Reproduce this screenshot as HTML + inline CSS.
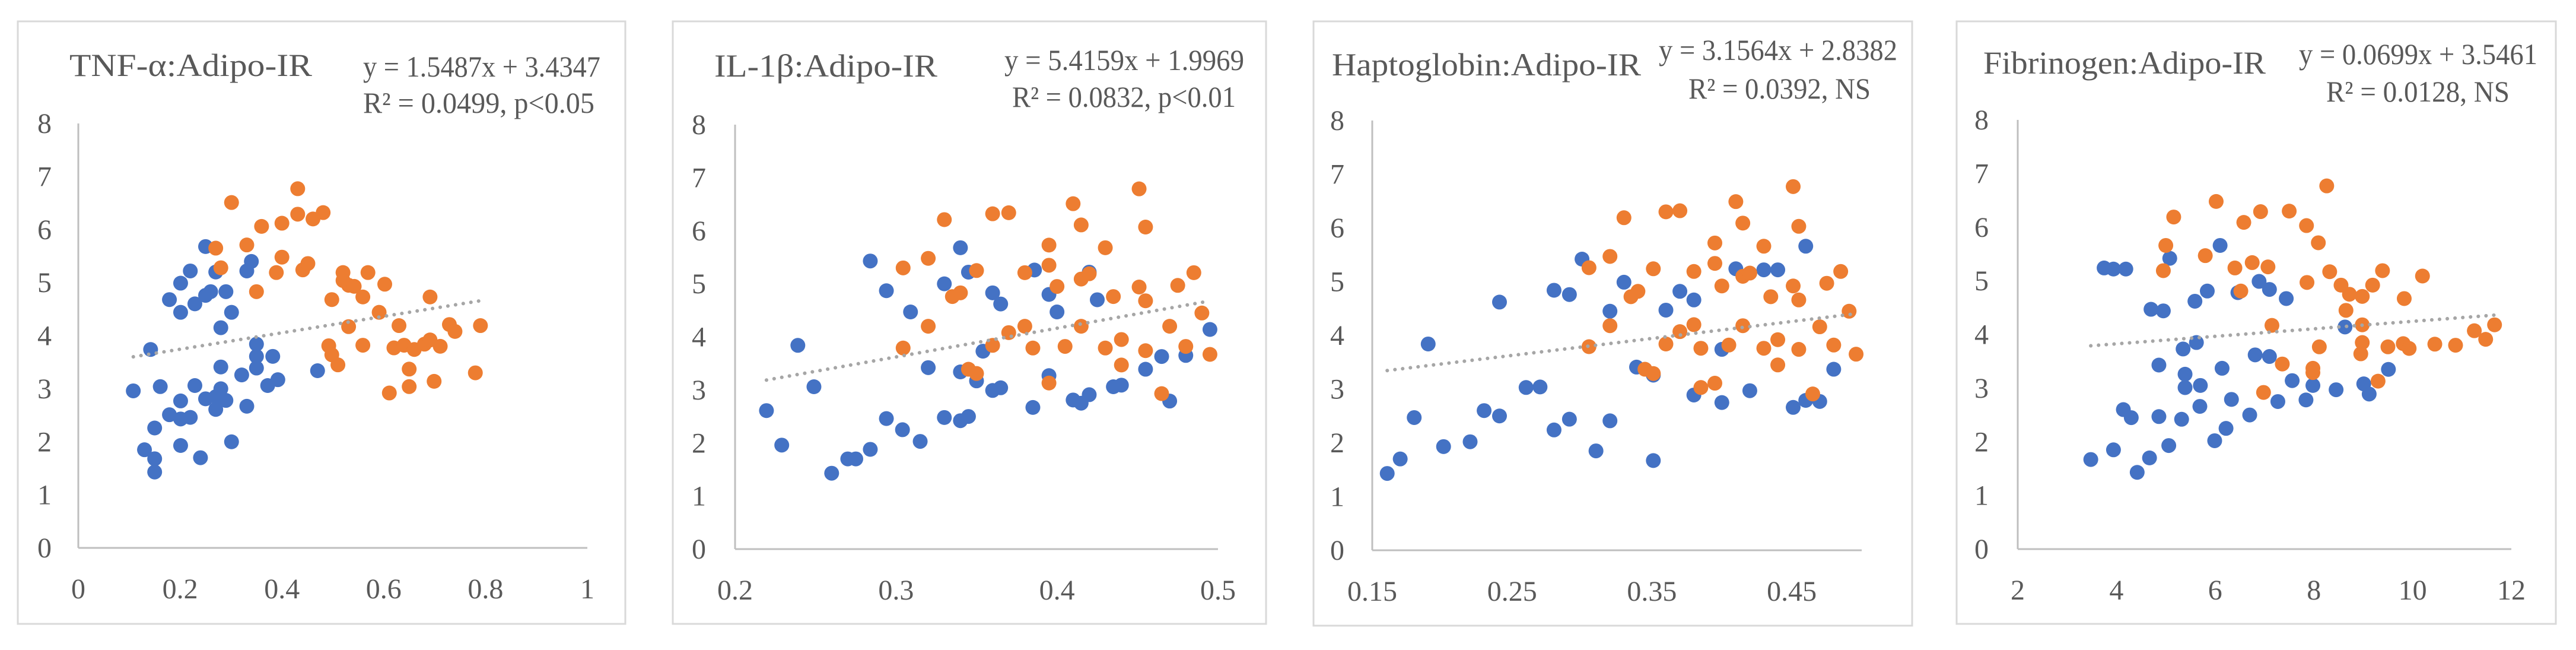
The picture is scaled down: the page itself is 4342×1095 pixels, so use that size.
<!DOCTYPE html>
<html><head><meta charset="utf-8"><style>
html,body{margin:0;padding:0;background:#fff;}
svg{display:block;}
text{font-family:"Liberation Serif",serif;fill:#595959;}
</style></head><body>
<svg id="fig" width="4342" height="1095" viewBox="0 0 4342 1095" xmlns="http://www.w3.org/2000/svg"></svg>
<script>
// ---- Panel 1: TNF-alpha
const p1BlueX=[0.108,0.142,0.130,0.150,0.150,0.150,0.161,0.179,0.179,0.201,0.201,0.201,0.201,0.201,0.220,0.220,0.229,0.229,0.240,0.250,0.250,0.250,0.260,0.270,0.270,0.270,0.280,0.280,0.280,0.290,0.290,0.301,0.301,0.321,0.331,0.331,0.340,0.350,0.350,0.350,0.372,0.382,0.392,0.470];
const p1BlueY=[2.96,3.74,1.85,1.68,1.43,2.26,3.04,2.51,4.68,2.77,2.43,1.93,4.99,4.44,5.22,2.46,3.06,4.60,1.70,2.81,4.76,5.68,4.83,5.20,2.61,2.85,3.00,3.41,4.15,4.83,2.78,4.44,2.00,3.26,2.67,5.22,5.40,3.84,3.61,3.39,3.06,3.61,3.17,3.34];
const p1OrX=[0.301,0.270,0.280,0.331,0.350,0.360,0.389,0.400,0.400,0.431,0.431,0.441,0.451,0.461,0.481,0.498,0.492,0.498,0.510,0.520,0.520,0.531,0.531,0.542,0.559,0.559,0.569,0.591,0.602,0.611,0.620,0.630,0.640,0.650,0.650,0.660,0.680,0.691,0.691,0.699,0.711,0.729,0.740,0.780,0.790];
const p1OrY=[6.51,5.65,5.28,5.71,4.83,6.06,5.19,6.12,5.48,6.77,6.29,5.24,5.36,6.20,6.32,4.68,3.81,3.64,3.45,5.19,5.04,4.95,4.17,4.93,4.73,3.82,5.19,4.44,4.97,2.92,3.77,4.19,3.82,3.37,3.04,3.74,3.84,4.73,3.92,3.14,3.80,4.21,4.08,3.30,4.19];
const p1Fit=[1.5487,3.4347];
const p1XTicks=[0,0.2,0.4,0.6,0.8,1];
const p1XLabels=["0","0.2","0.4","0.6","0.8","1"];
// ---- Panel 2: IL-1beta
const p2BlueX=[0.2195,0.229,0.239,0.249,0.260,0.270,0.275,0.284,0.284,0.294,0.294,0.304,0.309,0.315,0.320,0.330,0.330,0.340,0.340,0.340,0.345,0.345,0.350,0.354,0.360,0.360,0.365,0.365,0.385,0.386,0.395,0.395,0.400,0.410,0.415,0.420,0.420,0.425,0.435,0.440,0.455,0.465,0.470,0.480,0.495];
const p2BlueY=[2.61,1.96,3.84,3.06,1.43,1.70,1.70,5.43,1.88,4.87,2.46,2.25,4.47,2.03,3.42,5.00,2.48,5.68,3.34,2.42,5.22,2.50,3.17,3.73,4.83,2.99,4.62,3.04,2.67,5.26,4.80,3.27,4.47,2.81,2.75,5.22,2.91,4.70,3.06,3.09,3.39,3.63,2.79,3.65,4.14];
const p2OrX=[0.3044,0.3044,0.320,0.320,0.330,0.335,0.340,0.350,0.345,0.350,0.360,0.360,0.370,0.370,0.380,0.380,0.385,0.395,0.395,0.395,0.400,0.405,0.410,0.415,0.415,0.415,0.420,0.430,0.430,0.435,0.440,0.440,0.451,0.451,0.455,0.455,0.455,0.465,0.470,0.475,0.480,0.485,0.490,0.495];
const p2OrY=[5.30,3.79,5.48,4.20,6.21,4.76,4.83,5.25,3.39,3.31,6.32,3.84,6.34,4.08,5.21,4.20,3.79,5.73,5.35,3.13,4.95,3.82,6.51,6.11,5.09,4.20,5.19,5.68,3.79,4.76,3.95,3.47,6.79,4.94,6.07,4.68,3.74,2.93,4.20,4.97,3.82,5.21,4.45,3.67];
const p2Fit=[5.4159,1.9969];
const p2XTicks=[0.2,0.3,0.4,0.5];
const p2XLabels=["0.2","0.3","0.4","0.5"];
// ---- Panel 3: Haptoglobin
const p3BlueX=[0.1607,0.170,0.180,0.190,0.201,0.220,0.230,0.241,0.241,0.260,0.270,0.280,0.280,0.291,0.291,0.300,0.310,0.320,0.320,0.330,0.339,0.351,0.351,0.360,0.370,0.380,0.380,0.400,0.400,0.410,0.420,0.430,0.440,0.451,0.460,0.460,0.470,0.480];
const p3BlueY=[1.43,1.70,2.47,3.84,1.93,2.02,2.60,4.62,2.50,3.03,3.04,4.84,2.24,4.76,2.44,5.42,1.85,4.45,2.41,4.99,3.41,3.26,1.67,4.47,4.82,4.66,2.89,3.74,2.75,5.24,2.97,5.22,5.22,2.66,5.66,2.79,2.77,3.37];
const p3OrX=[0.305,0.305,0.320,0.320,0.330,0.335,0.340,0.345,0.351,0.351,0.360,0.360,0.370,0.370,0.380,0.380,0.385,0.385,0.395,0.395,0.395,0.400,0.405,0.410,0.415,0.415,0.415,0.420,0.430,0.430,0.435,0.440,0.440,0.451,0.451,0.455,0.455,0.455,0.465,0.470,0.475,0.480,0.485,0.491,0.496];
const p3OrY=[5.26,3.79,5.47,4.18,6.19,4.72,4.82,3.37,3.29,5.24,6.30,3.84,6.32,4.07,5.19,4.20,3.76,3.03,5.72,5.34,3.11,4.92,3.82,6.49,6.09,5.10,4.18,5.16,5.66,3.76,4.72,3.92,3.45,6.77,4.92,6.03,4.66,3.74,2.91,4.16,4.97,3.82,5.19,4.45,3.65];
const p3Fit=[3.1564,2.8382];
const p3XTicks=[0.15,0.25,0.35,0.45];
const p3XLabels=["0.15","0.25","0.35","0.45"];
// ---- Panel 4: Fibrinogen
const p4BlueX=[3.48,3.94,3.75,3.94,4.19,4.14,4.30,4.42,4.67,4.70,4.86,4.86,4.95,5.06,5.08,5.32,5.35,5.39,5.39,5.59,5.62,5.69,5.70,5.84,5.99,6.10,6.14,6.22,6.33,6.46,6.70,6.81,6.89,7.10,7.10,7.27,7.44,7.56,7.84,7.98,8.45,8.63,9.01,9.12,9.51];
const p4BlueY=[1.67,1.85,5.24,5.22,5.22,2.60,2.45,1.43,1.70,4.47,3.43,2.47,4.44,1.93,5.42,2.42,3.73,3.26,3.01,4.62,3.85,2.66,3.05,4.81,2.02,5.66,3.37,2.25,2.79,4.78,2.50,3.62,4.99,4.84,3.59,2.75,4.67,3.14,2.78,3.05,2.97,4.14,3.08,2.89,3.35];
const p4OrX=[5.00,4.95,5.16,5.80,6.02,6.40,6.52,6.58,6.75,6.92,6.98,7.07,7.15,7.36,7.50,7.85,7.86,7.98,7.98,8.09,8.11,8.26,8.32,8.55,8.65,8.72,8.95,8.98,8.98,8.98,9.19,9.30,9.39,9.50,9.83,9.81,9.93,10.20,10.45,10.87,11.25,11.48,11.66];
const p4OrY=[5.66,5.19,6.19,5.47,6.48,5.24,4.81,6.09,5.34,6.29,2.92,5.26,4.17,3.45,6.30,6.03,4.97,3.37,3.29,5.71,3.77,6.77,5.17,4.92,4.45,4.75,3.64,4.71,4.18,3.85,4.92,3.13,5.19,3.77,4.67,3.83,3.74,5.09,3.82,3.80,4.07,3.91,4.18];
const p4Fit=[0.0699,3.5461];
const p4XTicks=[2,4,6,8,10,12];
const p4XLabels=["2","4","6","8","10","12"];
const yTicks=[0,1,2,3,4,5,6,7,8];
const yLabels=["0","1","2","3","4","5","6","7","8"];

const NS="http://www.w3.org/2000/svg";
const svg=document.getElementById('fig');
function mk(tag,attrs,parent){const e=document.createElementNS(NS,tag);for(const k in attrs)e.setAttribute(k,attrs[k]);(parent||svg).appendChild(e);return e;}

const panels=[
 {id:'tnf',title:'TNF-α:Adipo-IR',eq:'y = 1.5487x + 3.4347',r2:'R² = 0.0499, p<0.05',
  box:[30,36,1054,1051],px0:132,px1:990,py0:923,py8:208,xmin:0,xmax:1,
  t:[117,128,409],e:[1012,129,400],r:[1002,190,390],yl:87,
  bx:p1BlueX,by:p1BlueY,ox:p1OrX,oy:p1OrY,fit:p1Fit,xt:p1XTicks,xl:p1XLabels},
 {id:'il1b',title:'IL-1β:Adipo-IR',eq:'y = 5.4159x + 1.9969',r2:'R² = 0.0832, p<0.01',
  box:[1134,36,2134,1051],px0:1239,px1:2053,py0:925,py8:210,xmin:0.2,xmax:0.5,
  t:[1204,129,376],e:[2097,118,404],r:[2083,180,377],yl:1190,
  bx:p2BlueX,by:p2BlueY,ox:p2OrX,oy:p2OrY,fit:p2Fit,xt:p2XTicks,xl:p2XLabels},
 {id:'haptoglobin',title:'Haptoglobin:Adipo-IR',eq:'y = 3.1564x + 2.8382',r2:'R² = 0.0392, NS',
  box:[2214,36,3223,1054],px0:2313,px1:3138,py0:927,py8:203,xmin:0.15,xmax:0.5,
  t:[2245,127,521],e:[3198,101,402],r:[3153,166,307],yl:2266,
  bx:p3BlueX,by:p3BlueY,ox:p3OrX,oy:p3OrY,fit:p3Fit,xt:p3XTicks,xl:p3XLabels},
 {id:'fibrinogen',title:'Fibrinogen:Adipo-IR',eq:'y = 0.0699x + 3.5461',r2:'R² = 0.0128, NS',
  box:[3298,36,4308,1051],px0:3401,px1:4233,py0:925,py8:202,xmin:2,xmax:12,
  t:[3343,124,476],e:[4277,108,402],r:[4230,171,309],yl:3352,
  bx:p4BlueX,by:p4BlueY,ox:p4OrX,oy:p4OrY,fit:p4Fit,xt:p4XTicks,xl:p4XLabels}
];

panels.forEach(p=>{
 const g=mk('g',{});
 
 
 const sx=v=>p.px0+(v-p.xmin)/(p.xmax-p.xmin)*(p.px1-p.px0);
 const sy=v=>p.py0-v/8*(p.py0-p.py8);
 const b=mk('rect',{x:p.box[0],y:p.box[1],width:p.box[2]-p.box[0],height:p.box[3]-p.box[1],fill:'#fff',stroke:'#D9D9D9','stroke-width':3},g);
 
 
 const t=mk('text',{x:p.t[0],y:p.t[1],'font-size':54,textLength:p.t[2],lengthAdjust:'spacingAndGlyphs'},g);
 t.textContent=p.title;
 
 
 const e=mk('text',{x:p.e[0],y:p.e[1],'font-size':50,'text-anchor':'end',textLength:p.e[2],lengthAdjust:'spacingAndGlyphs'},g);
 e.textContent=p.eq;
 
 
 const r=mk('text',{x:p.r[0],y:p.r[1],'font-size':50,'text-anchor':'end',textLength:p.r[2],lengthAdjust:'spacingAndGlyphs'},g);
 r.textContent=p.r2;
 
 
 const ya=mk('line',{x1:p.px0,y1:p.py8,x2:p.px0,y2:p.py0,stroke:'#BFBFBF','stroke-width':3},g);
 
 
 const xa=mk('line',{x1:p.px0,y1:p.py0,x2:p.px1,y2:p.py0,stroke:'#BFBFBF','stroke-width':3},g);
 
 
 yTicks.forEach((v,i)=>{
  const l=mk('text',{x:p.yl,y:sy(v)+16,'font-size':48,'text-anchor':'end'},g);
  l.textContent=yLabels[i];
  
  
 });
 p.xt.forEach((v,i)=>{
  const l=mk('text',{x:sx(v),y:p.py0+85,'font-size':48,'text-anchor':'middle'},g);
  l.textContent=p.xl[i];
  
  
 });
 p.bx.forEach((v,i)=>{
  const c=mk('circle',{cx:sx(v),cy:sy(p.by[i]),r:12.5,fill:'#4472C4'},g);
  
  
 });
 p.ox.forEach((v,i)=>{
  const c=mk('circle',{cx:sx(v),cy:sy(p.oy[i]),r:12.5,fill:'#ED7D31'},g);
  
  
 });
 const all=p.bx.concat(p.ox);
 const x0=Math.min(...all),x1=Math.max(...all);
 const tl=mk('line',{x1:sx(x0),y1:sy(p.fit[0]*x0+p.fit[1]),x2:sx(x1),y2:sy(p.fit[0]*x1+p.fit[1]),stroke:'#A6A6A6','stroke-width':6,'stroke-dasharray':'0.1 13','stroke-linecap':'round'},g);
 
 
});
</script>
</body></html>
